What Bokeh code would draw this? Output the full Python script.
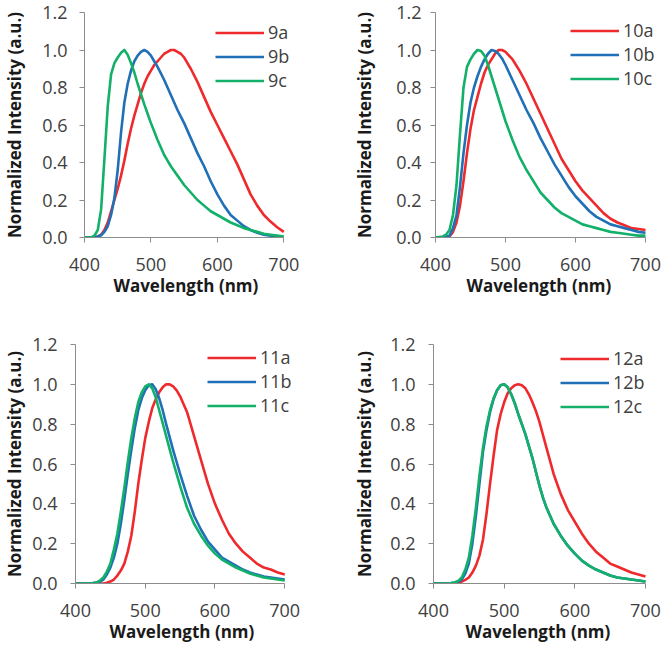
from bokeh.plotting import figure
from bokeh.layouts import column, row
from bokeh.models import Range1d, FixedTicker, NumeralTickFormatter, Legend, LegendItem, Title
from bokeh.embed import file_html
from bokeh.resources import INLINE

# ---------------- data ----------------
WAVELENGTH = [400, 410, 415, 420, 425, 430, 435, 440, 445, 450, 455,
              460, 465, 470, 475, 480, 485, 490, 495, 500, 505,
              510, 515, 520, 525, 530, 535, 540, 545, 550, 555, 560,
              570, 580, 590, 600, 610, 620, 630, 640, 650, 660, 670, 680, 690, 700]

S9A = [0, 0, 0.002, 0.005, 0.015, 0.04, 0.08, 0.14, 0.20, 0.26, 0.33,
       0.41, 0.50, 0.58, 0.65, 0.71, 0.77, 0.82, 0.86, 0.89, 0.92,
       0.94, 0.96, 0.98, 0.99, 1.0, 1.0, 0.99, 0.98, 0.96, 0.93, 0.90,
       0.83, 0.75, 0.67, 0.60, 0.53, 0.46, 0.39, 0.31, 0.23, 0.17, 0.12, 0.085, 0.055, 0.03]
S9B = [0, 0, 0.002, 0.005, 0.012, 0.03, 0.06, 0.12, 0.21, 0.36, 0.56,
       0.72, 0.82, 0.89, 0.94, 0.97, 0.99, 1.0, 0.99, 0.97, 0.94,
       0.91, 0.875, 0.84, 0.80, 0.76, 0.72, 0.68, 0.645, 0.61, 0.57, 0.53,
       0.45, 0.38, 0.30, 0.23, 0.17, 0.12, 0.09, 0.06, 0.04, 0.025, 0.015, 0.01, 0.005, 0.0]
S9C = [0, 0, 0.01, 0.04, 0.15, 0.42, 0.70, 0.87, 0.93, 0.96, 0.985,
       1.0, 0.975, 0.93, 0.88, 0.82, 0.765, 0.71, 0.66, 0.61, 0.565,
       0.52, 0.48, 0.44, 0.41, 0.38, 0.355, 0.33, 0.305, 0.28, 0.26, 0.24,
       0.20, 0.17, 0.14, 0.12, 0.10, 0.08, 0.065, 0.05, 0.04, 0.03, 0.02, 0.015, 0.01, 0.005]

S10A = [0, 0, 0.001, 0.005, 0.03, 0.08, 0.17, 0.30, 0.45, 0.58, 0.68,
        0.75, 0.82, 0.88, 0.92, 0.95, 0.98, 1.0, 1.0, 0.99, 0.97,
        0.95, 0.92, 0.89, 0.855, 0.82, 0.78, 0.74, 0.70, 0.66, 0.62, 0.58,
        0.50, 0.42, 0.36, 0.30, 0.25, 0.21, 0.17, 0.13, 0.10, 0.08, 0.065, 0.05, 0.045, 0.04]
S10B = [0, 0, 0.003, 0.01, 0.05, 0.12, 0.27, 0.45, 0.60, 0.72, 0.80,
        0.86, 0.91, 0.95, 0.98, 1.0, 0.995, 0.98, 0.955, 0.92, 0.88,
        0.84, 0.80, 0.76, 0.72, 0.68, 0.645, 0.61, 0.57, 0.53, 0.495, 0.46,
        0.39, 0.33, 0.27, 0.22, 0.18, 0.14, 0.11, 0.09, 0.07, 0.06, 0.05, 0.04, 0.03, 0.025]
S10C = [0, 0.005, 0.015, 0.04, 0.12, 0.28, 0.55, 0.80, 0.91, 0.95, 0.98,
        1.0, 0.995, 0.97, 0.92, 0.86, 0.80, 0.74, 0.68, 0.62, 0.57,
        0.52, 0.475, 0.43, 0.395, 0.36, 0.33, 0.30, 0.27, 0.24, 0.22, 0.20,
        0.16, 0.13, 0.11, 0.09, 0.07, 0.06, 0.05, 0.04, 0.03, 0.025, 0.02, 0.015, 0.01, 0.01]

S11A = [0, 0, 0, 0, 0, 0, 0, 0, 0.004, 0.01, 0.02,
        0.04, 0.065, 0.10, 0.16, 0.24, 0.36, 0.50, 0.62, 0.73, 0.81,
        0.88, 0.925, 0.96, 0.985, 1.0, 1.0, 0.99, 0.97, 0.94, 0.90, 0.86,
        0.74, 0.62, 0.50, 0.40, 0.32, 0.25, 0.20, 0.16, 0.13, 0.10, 0.08, 0.07, 0.055, 0.045]
S11B = [0, 0, 0, 0, 0.002, 0.005, 0.01, 0.02, 0.045, 0.08, 0.13,
        0.20, 0.30, 0.42, 0.55, 0.67, 0.78, 0.87, 0.93, 0.97, 0.995,
        1.0, 0.975, 0.93, 0.87, 0.80, 0.735, 0.67, 0.61, 0.55, 0.495, 0.44,
        0.34, 0.27, 0.21, 0.17, 0.13, 0.11, 0.09, 0.07, 0.055, 0.045, 0.035, 0.03, 0.025, 0.02]
S11C = [0, 0, 0, 0, 0.002, 0.005, 0.015, 0.03, 0.06, 0.10, 0.17,
        0.25, 0.36, 0.48, 0.61, 0.73, 0.83, 0.91, 0.96, 0.99, 1.0,
        0.98, 0.935, 0.87, 0.805, 0.74, 0.675, 0.61, 0.55, 0.49, 0.435, 0.38,
        0.30, 0.24, 0.19, 0.15, 0.12, 0.10, 0.08, 0.065, 0.05, 0.04, 0.03, 0.025, 0.02, 0.015]

S12A = [0, 0, 0, 0, 0, 0, 0.004, 0.01, 0.018, 0.03, 0.055,
        0.09, 0.14, 0.22, 0.35, 0.50, 0.64, 0.77, 0.85, 0.91, 0.955,
        0.98, 0.995, 1.0, 0.995, 0.98, 0.95, 0.91, 0.865, 0.81, 0.745, 0.68,
        0.55, 0.45, 0.37, 0.31, 0.25, 0.20, 0.16, 0.13, 0.10, 0.085, 0.07, 0.055, 0.045, 0.035]
S12B = [0, 0, 0, 0, 0.002, 0.005, 0.01, 0.02, 0.05, 0.10, 0.20,
        0.34, 0.50, 0.66, 0.77, 0.86, 0.925, 0.97, 0.995, 1.0, 0.985,
        0.95, 0.905, 0.85, 0.80, 0.75, 0.69, 0.63, 0.56, 0.49, 0.43, 0.38,
        0.30, 0.24, 0.19, 0.15, 0.115, 0.09, 0.07, 0.055, 0.04, 0.03, 0.025, 0.02, 0.015, 0.01]
S12C = [0, 0, 0, 0, 0.002, 0.005, 0.013, 0.03, 0.07, 0.13, 0.24,
        0.38, 0.54, 0.68, 0.79, 0.87, 0.93, 0.97, 0.995, 1.0, 0.985,
        0.95, 0.905, 0.85, 0.80, 0.75, 0.69, 0.63, 0.56, 0.49, 0.43, 0.38,
        0.30, 0.24, 0.19, 0.15, 0.115, 0.09, 0.07, 0.055, 0.04, 0.03, 0.025, 0.02, 0.015, 0.01]

NAMES_9 = ["9a", "9b", "9c"]
NAMES_10 = ["10a", "10b", "10c"]
NAMES_11 = ["11a", "11b", "11c"]
NAMES_12 = ["12a", "12b", "12c"]

X_MIN, X_MAX = 400, 700
Y_MIN, Y_MAX = 0.0, 1.2
X_TICKS = [400, 500, 600, 700]
Y_TICKS = [0.0, 0.2, 0.4, 0.6, 0.8, 1.0, 1.2]
X_LABEL = "Wavelength (nm)"
Y_LABEL = "Normalized Intensity (a.u.)"

# ---------------- styles / layout ----------------
COLORS = ["#ef2a2c", "#1f70b6", "#12b068"]
AXIS_GRAY = "#8c8c8c"
TICK_TEXT = "#404040"
LABEL_TEXT = "#1a1a1a"
FONT = "Open Sans"

# w/h: figure size; l/r/t/b: borders; xview: right end of the visible x span
# (frame is wider than the axis so the legend text is not clipped);
# yls/yts: y axis label / tick label standoffs; leg: legend location;
# xlo: x label offset from the frame's left edge
LAYOUT = [
    dict(w=333, h=323, l=77, r=4, t=12, b=85, xview=768.8, yls=13, yts=12, leg=(131, 145), xlo=29),
    dict(w=333, h=323, l=102, r=4, t=12, b=86, xview=724.3, yls=17, yts=9, leg=(135, 147), xlo=31),
    dict(w=333, h=324, l=68, r=4, t=21, b=64, xview=764.2, yls=3, yts=13, leg=(132, 166), xlo=34),
    dict(w=333, h=324, l=100, r=4, t=21, b=63, xview=724.1, yls=11, yts=13, leg=(127, 165), xlo=32),
]


def make_panel(names, series, cfg):
    p = figure(width=cfg["w"], height=cfg["h"],
               x_range=Range1d(X_MIN, cfg["xview"]), y_range=Range1d(Y_MIN, Y_MAX),
               output_backend="svg", toolbar_location=None,
               min_border_left=cfg["l"], min_border_right=cfg["r"],
               min_border_top=cfg["t"], min_border_bottom=cfg["b"])
    p.outline_line_color = None
    p.xgrid.visible = False
    p.ygrid.visible = False
    p.background_fill_color = "white"
    p.border_fill_color = "white"

    renderers = []
    for ys, c in zip(series, COLORS):
        r = p.line(WAVELENGTH, ys, line_color=c, line_width=2.6, line_join="round")
        renderers.append(r)

    for ax in (p.xaxis[0], p.yaxis[0]):
        ax.axis_line_color = AXIS_GRAY
        ax.axis_line_width = 1
        ax.major_tick_line_color = AXIS_GRAY
        ax.major_tick_out = 5
        ax.major_tick_in = 0
        ax.minor_tick_line_color = None
        ax.major_label_text_font = FONT
        ax.major_label_text_font_size = "18px"
        ax.major_label_text_color = TICK_TEXT
        ax.axis_label_text_font = FONT
        ax.axis_label_text_font_size = "17px"
        ax.axis_label_text_font_style = "bold"
        ax.axis_label_text_color = LABEL_TEXT

    xa = p.xaxis[0]
    xa.ticker = FixedTicker(ticks=X_TICKS)
    xa.bounds = (X_MIN, X_MAX)
    xa.major_label_standoff = 15

    # x label as a title below the axis, centred under the 400-700 span
    xt = Title(text=X_LABEL, align="left", offset=cfg["xlo"], standoff=0,
               vertical_align="top", text_font=FONT, text_font_size="17px",
               text_font_style="bold", text_color=LABEL_TEXT)
    p.add_layout(xt, "below")

    ya = p.yaxis[0]
    ya.ticker = FixedTicker(ticks=Y_TICKS)
    ya.formatter = NumeralTickFormatter(format="0.0")
    ya.axis_label = Y_LABEL
    ya.major_label_standoff = cfg["yts"]
    ya.axis_label_standoff = cfg["yls"]

    items = [LegendItem(label=n, renderers=[r]) for n, r in zip(names, renderers)]
    legend = Legend(items=items, location=cfg["leg"],
                    glyph_width=49, glyph_height=23, label_height=23,
                    spacing=0, padding=0, margin=0, label_standoff=4,
                    label_text_font=FONT, label_text_font_size="18px",
                    label_text_color=TICK_TEXT,
                    background_fill_alpha=0, border_line_alpha=0)
    p.add_layout(legend)
    return p


p1 = make_panel(NAMES_9, [S9A, S9B, S9C], LAYOUT[0])
p2 = make_panel(NAMES_10, [S10A, S10B, S10C], LAYOUT[1])
p3 = make_panel(NAMES_11, [S11A, S11B, S11C], LAYOUT[2])
p4 = make_panel(NAMES_12, [S12A, S12B, S12C], LAYOUT[3])

layout = column(row(p1, p2, spacing=0), row(p3, p4, spacing=0), spacing=0)

open("out.html", "w").write(file_html(layout, INLINE))
